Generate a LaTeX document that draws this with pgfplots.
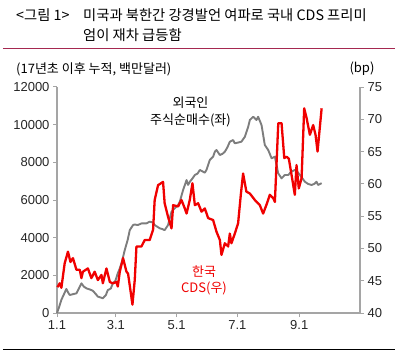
\documentclass[border=0pt]{standalone}
\usepackage{pgfplots}
\pgfplotsset{compat=1.18}
\usepackage{fontspec}
\setmainfont{Liberation Sans}
\newfontfamily\kr{Noto Sans CJK KR}
\definecolor{axgray}{RGB}{165,165,165}
\definecolor{linegray}{RGB}{125,125,125}
\definecolor{cdsred}{RGB}{240,0,0}
\definecolor{rulecol}{RGB}{165,40,80}
\begin{document}
\begin{tikzpicture}
\pgfplotsset{
  myaxis/.style={
    scale only axis,
    width=303pt, height=226pt,
    xmin=0, xmax=304,
    axis line style={draw=axgray, line width=1.2pt, -},
    tick style={draw=axgray, line width=1pt},
    tick align=outside, major tick length=4pt,
    ticklabel style={font=\fontsize{13}{13}\selectfont, text=black!85},
    /pgf/number format/assume math mode=true,
    /pgf/number format/1000 sep={},
    clip=false,
  }
}
\begin{axis}[myaxis, name=ax,
  axis x line*=bottom, axis y line*=left,
  ymin=0, ymax=12000, ytick={0,2000,...,12000},
  xtick={0,59,120,181,243}, xticklabels={1.1,3.1,5.1,7.1,9.1},
  scaled y ticks=false,
]
\addplot[linegray, line width=1.9pt, no marks, line join=round] coordinates {
(0,0) (2,300) (4.4,700) (7,1000) (9.4,1280) (11,1100) (12.8,955) (16,1000)
(19.5,1045) (22,1300) (24.5,1575) (27,1400) (29.5,1310) (33,1250) (36,1180)
(39,1000) (41,870) (44,820) (46,780) (49,950) (51,1220) (54,1300) (56,1575)
(58.5,1700) (61,2110) (63,2370) (65,2700) (68,3345) (71,3900) (73,4400)
(76.3,4670) (78,4700) (81,4670) (85,4760) (89.8,4760) (93,4850)
(96.4,4800) (98,4670) (103,4500) (106,4450) (108,4400) (111.4,4670)
(114.9,5380) (118.2,5560) (121.5,5735) (123.2,5910) (126.5,6530)
(128.3,6800) (130,7060) (131.5,6800) (133.3,6970) (136,7150) (138.3,7330)
(141,7400) (143.3,7595) (146.6,7500) (148.3,7450) (150,7600) (153.3,8125)
(156.6,8300) (158.4,8565) (160,8655) (163.4,8390) (166,8450)
(168.4,8565) (171,8800) (173.4,9095) (176.7,9185) (178.4,9010) (181.7,9050)
(185,9095) (188.5,9360) (191.8,9890) (193.5,10250) (196.8,10420) (200.2,10250)
(201.8,10420) (205.2,9980) (208.5,8920) (211.9,8655) (215.3,8215)
(218.6,8300) (221.9,7420) (225.3,7150) (228.6,7330) (232,7330)
(235,7500) (238.6,7595) (241,7500) (243.7,7330) (248.7,6970) (252,6850)
(255.4,6800) (258,6850) (260.4,6970) (262,6800) (265.5,6890)
};
\end{axis}
\begin{axis}[myaxis, at={(ax.south west)}, anchor=south west,
  axis x line=none, axis y line*=right,
  ymin=40, ymax=75, ytick={40,45,...,75},
]
\addplot[cdsred, line width=2.3pt, no marks, line join=round] coordinates {
(0.5,44.0) (2.7,44.6) (4.4,43.9) (7.7,47.7) (11,49.5) (13.5,47.9) (16,48.5)
(19.5,46.7) (22.8,46.7) (24.5,45.4) (26,46.4) (31,46.9) (34.5,45.4)
(37.8,46.4) (41,45.1) (44.6,45.9) (46,44.6) (49.6,46.9) (53,44.8) (56,44.6)
(59.6,44.8) (61,44.1) (63,46.4) (66.3,48.5) (69.7,46.4) (71.3,46.1)
(75.7,41.3) (78,45.1) (79.7,50.3) (84.7,50.3) (88,51.3) (93,51.3)
(96.4,52.9) (98,57.5) (101.4,59.8) (106.4,60.3) (108,57.0) (111.4,54.9)
(114.9,53.1) (116.5,56.7) (121.5,56.5) (124.9,57.5) (128.2,56.2)
(130,55.4) (133.2,57.5) (135.9,60.1) (138.3,56.7) (141.6,57.0) (145,55.7)
(148.3,56.2) (151.6,54.7) (156.6,54.4) (160,52.6) (163.4,51.3) (165,49.0)
(168.4,50.8) (171.7,50.3) (173.4,52.3) (175,50.8) (178.4,52.3) (181.7,53.9)
(184.4,58.3) (186.7,61.6) (190,58.8) (193.5,58.5) (198.5,57.5) (203.5,56.7)
(206.8,55.4) (210,56.7) (213.5,58.3) (216.9,57.8) (218.6,57.2) (222,69.4)
(225.3,69.4) (228,64.0) (230.3,64.2) (232.6,63.9) (235.3,61.4) (238.6,58.3)
(240.3,62.9) (242.6,59.3) (245.4,60.9) (248,71.7) (250.4,70.2) (253.7,67.6)
(257,69.1) (259.4,67.6) (261.4,65.0) (265.5,71.7)
};
\end{axis}
% everything else relative to the axis box corner (image px 57,313)
\begin{scope}[shift={(ax.south west)}, shift={(-57pt,-38pt)}, x=1pt, y=1pt]
\path[use as bounding box] (0,0) rectangle (395,351);
\node[anchor=west, font=\kr\fontsize{14.3}{16}\selectfont, inner sep=0pt] at (16,336) {<그림 1>};
\node[anchor=west, font=\kr\fontsize{14.3}{16}\selectfont, inner sep=0pt] at (83,336) {미국과 북한간 강경발언 여파로 국내 CDS 프리미};
\node[anchor=west, font=\kr\fontsize{14.3}{16}\selectfont, inner sep=0pt] at (83,316) {엄이 재차 급등함};
\draw[rulecol, line width=1pt] (3,302) -- (395,302);
\draw[black, line width=0.8pt] (3,2) -- (395,2);
\node[anchor=west, font=\kr\fontsize{13}{14}\selectfont, inner sep=0pt] at (16,282) {(17년초 이후 누적, 백만달러)};
\node[font=\kr\fontsize{13}{14}\selectfont, inner sep=0pt] at (362,282) {(bp)};
\node[font=\kr\fontsize{13}{15}\selectfont, inner sep=0pt] at (190.5,248.3) {외국인};
\node[font=\kr\fontsize{13}{15}\selectfont, inner sep=0pt] at (190.5,230.3) {주식순매수(좌)};
\node[font=\kr\fontsize{13}{15}\selectfont, text=cdsred, inner sep=0pt] at (204,79.3) {한국};
\node[font=\kr\fontsize{13}{15}\selectfont, text=cdsred, inner sep=0pt] at (204,62.7) {CDS(우)};
\end{scope}
\end{tikzpicture}
\end{document}
